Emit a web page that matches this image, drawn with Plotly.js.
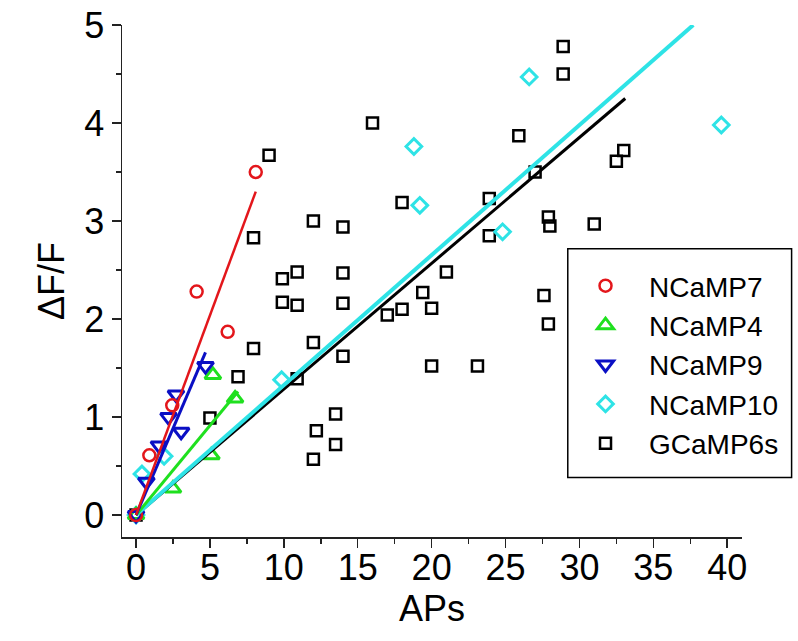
<!DOCTYPE html>
<html>
<head>
<meta charset="utf-8">
<script src="https://cdn.plot.ly/plotly-3.0.1.min.js"></script>
<style>html,body{margin:0;padding:0;background:#fff;}#chart{width:798px;height:641px;}</style>
</head>
<body>
<div id="chart"></div>
<script>
// ---- data ----
const seriesNames = ["NCaMP7", "NCaMP4", "NCaMP9", "NCaMP10", "GCaMP6s"];

const ncamp7X = [0, 0.9, 2.45, 4.1, 6.2, 8.1];
const ncamp7Y = [0, 0.61, 1.12, 2.28, 1.87, 3.50];

const ncamp4X = [0, 2.5, 5.1, 5.2, 6.7];
const ncamp4Y = [0, 0.27, 0.61, 1.43, 1.19];

const ncamp9X = [0, 0.7, 1.55, 2.2, 2.7, 3.05, 4.7];
const ncamp9Y = [0, 0.34, 0.71, 1.0, 1.23, 0.85, 1.52];

const ncamp10X = [0, 0.4, 1.9, 9.85, 18.8, 19.2, 24.8, 26.6, 39.6];
const ncamp10Y = [0, 0.42, 0.60, 1.38, 3.76, 3.16, 2.89, 4.47, 3.98];

const gcampX = [0, 5.0, 6.9, 7.95, 7.95, 9.0, 9.9, 10.9, 9.9, 10.9, 10.9, 12.0, 12.0, 14.0, 14.0, 14.0, 14.0,
  13.5, 12.2, 13.5, 12.0, 16.0, 18.0, 17.0, 18.0, 19.4, 20.0, 20.0, 21.0, 23.1, 23.9, 23.9, 25.9, 27.0,
  27.6, 27.9, 27.9, 28.0, 28.9, 28.9, 31.0, 32.5, 33.0];
const gcampY = [0, 0.99, 1.41, 1.70, 2.83, 3.67, 2.41, 2.48, 2.17, 2.14, 1.39, 1.76, 3.0, 2.94, 2.47, 2.16, 1.62,
  1.03, 0.86, 0.72, 0.57, 4.0, 3.19, 2.04, 2.10, 2.27, 2.11, 1.52, 2.48, 1.52, 3.23, 2.85, 3.87, 3.50,
  2.24, 1.95, 3.04, 2.95, 4.78, 4.50, 2.97, 3.61, 3.72];

// linear fit lines (start, end)
const fit7X = [0, 8.1],   fit7Y = [0, 3.30];
const fit4X = [0, 6.9],   fit4Y = [0, 1.26];
const fit9X = [0, 4.7],   fit9Y = [0, 1.66];
const fit10X = [0, 37.7], fit10Y = [0, 5.0];
const fitGX = [0, 33.1],  fitGY = [0, 4.25];

const xTickVals = [0, 5, 10, 15, 20, 25, 30, 35, 40];
const yTickVals = [0, 1, 2, 3, 4, 5];

// ---- styling ----
const cRed = "#e3161b", cGreen = "#1fe01f", cBlue = "#0a0fc4", cCyan = "#2ee3e6", cBlack = "#000000";

function pts(x, y, name, color, symbol, size, lw, rank) {
  return {x: x, y: y, name: name, type: "scatter", mode: "markers", legendrank: rank,
    marker: {symbol: symbol, size: size, color: color, line: {color: color, width: lw}},
    hoverinfo: "x+y"};
}
function fit(x, y, color, w) {
  return {x: x, y: y, type: "scatter", mode: "lines", showlegend: false,
    line: {color: color, width: w}, hoverinfo: "skip"};
}

const traces = [
  pts(gcampX, gcampY, seriesNames[4], cBlack, "square-open", 11, 2.5, 5),
  pts(ncamp10X, ncamp10Y, seriesNames[3], cCyan, "diamond-open", 12, 3, 4),
  pts(ncamp4X, ncamp4Y, seriesNames[1], cGreen, "triangle-up-open", 14, 3, 2),
  pts(ncamp9X, ncamp9Y, seriesNames[2], cBlue, "triangle-down-open", 14, 3, 3),
  pts(ncamp7X, ncamp7Y, seriesNames[0], cRed, "circle-open", 12, 2.5, 1),
  fit(fitGX, fitGY, cBlack, 3),
  fit(fit10X, fit10Y, cCyan, 4),
  fit(fit4X, fit4Y, cGreen, 3),
  fit(fit9X, fit9Y, cBlue, 3),
  fit(fit7X, fit7Y, cRed, 2.5)
];

const axisFont = {family: "Arial, 'Liberation Sans', sans-serif", size: 36, color: "#000"};

const layout = {
  width: 798, height: 641,
  margin: {l: 122, r: 56, t: 25, b: 104},
  paper_bgcolor: "#fff", plot_bgcolor: "#fff",
  showlegend: true,
  xaxis: {
    range: [-0.95, 41], tickmode: "array", tickvals: xTickVals,
    ticks: "outside", ticklen: 9, tickwidth: 1.5, tickcolor: "#222",
    minor: {dtick: 2.5, ticks: "outside", ticklen: 5, tickwidth: 1.5, tickcolor: "#222"},
    showline: true, linecolor: "#222", linewidth: 1.5, showgrid: false, zeroline: false,
    tickfont: axisFont, ticklabelstandoff: -11,
    title: {text: "APs", font: axisFont, standoff: 0}
  },
  yaxis: {
    range: [-0.224, 5.0], tickmode: "array", tickvals: yTickVals,
    ticks: "outside", ticklen: 9, tickwidth: 1.5, tickcolor: "#222",
    minor: {dtick: 0.5, ticks: "outside", ticklen: 5, tickwidth: 1.5, tickcolor: "#222"},
    showline: true, linecolor: "#222", linewidth: 1.5, showgrid: false, zeroline: false,
    tickfont: axisFont,
    title: {text: "ΔF/F", font: axisFont, standoff: 8}
  },
  legend: {
    x: 0.7097, y: 0.539, xanchor: "left", yanchor: "top",
    bgcolor: "rgba(255,255,255,0)", borderwidth: 0,
    font: {family: "Arial, 'Liberation Sans', sans-serif", size: 28, color: "#000"},
    tracegroupgap: 0, itemwidth: 77
  },
  shapes: [{type: "rect", xref: "paper", yref: "paper", x0: 0.719, x1: 1.08, y0: 0.116, y1: 0.563,
    line: {color: "#000", width: 1.5}, fillcolor: "#fff", layer: "below"}]
};

Plotly.newPlot("chart", traces, layout, {displayModeBar: false, staticPlot: true});
</script>
</body>
</html>
